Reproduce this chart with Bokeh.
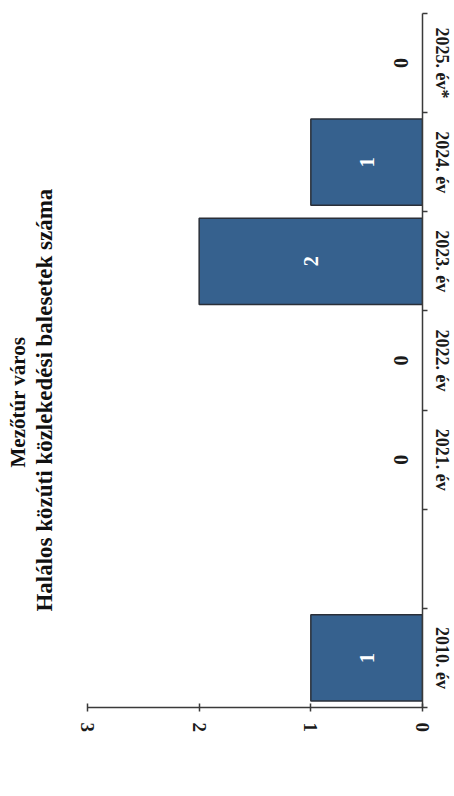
import math
from bokeh.plotting import figure
from bokeh.models import (ColumnDataSource, Range1d, FixedTicker,
                          LinearAxis, Title)
from bokeh.core.properties import value
from bokeh.embed import file_html
from bokeh.resources import INLINE

# ---- data ----
years = ["2010. év", "2021. év", "2022. év", "2023. év", "2024. év", "2025. év*"]
accidents = [1, 0, 0, 2, 1, 0]
empty_slots_after_first = 1   # blank slot between 2010 and 2021 on the category axis
value_ticks = [0, 1, 2, 3]
title_text = "Halálos közúti közlekedési balesetek száma"
subtitle_text = "Mezőtúr város"

n_slots = len(years) + empty_slots_after_first
slot_index = [0] + [i + 1 + empty_slots_after_first for i in range(len(years) - 1)]
year_pos = [i + 0.5 for i in slot_index]

FONT = value("Liberation Serif")
BAR = "#36618e"
AXIS = "#3a3a3a"
TITLE_POS = 3.1   # where the rotated title is centred along the category direction

p = figure(width=454, height=796,
           y_range=Range1d(start=0, end=n_slots),
           x_range=Range1d(start=max(value_ticks), end=min(value_ticks)),
           y_axis_location=None,
           output_backend="svg", toolbar_location=None,
           min_border_left=87, min_border_top=13,
           min_border_bottom=89, min_border_right=10)
p.outline_line_color = None
p.grid.visible = False
p.background_fill_color = "white"

# value axis (bottom)
xa = p.xaxis[0]
xa.ticker = FixedTicker(ticks=value_ticks)
xa.major_label_orientation = "vertical"
xa.major_label_text_font = "Liberation Serif"
xa.major_label_text_font_style = "bold"
xa.major_label_text_font_size = "19px"
xa.major_label_text_color = "#1a1a1a"
xa.major_label_standoff = 11
xa.axis_line_color = AXIS
xa.axis_line_width = 1.5
xa.major_tick_line_color = AXIS
xa.major_tick_line_width = 1.5
xa.major_tick_in = 4
xa.major_tick_out = 4
xa.minor_tick_line_color = None

# category axis (right): labels at slot centres, ticks at slot boundaries
cax = LinearAxis(ticker=FixedTicker(ticks=year_pos,
                                    minor_ticks=list(range(n_slots + 1))),
                 major_label_overrides={pos: y for pos, y in zip(year_pos, years)})
cax.axis_line_color = AXIS
cax.axis_line_width = 1.5
cax.major_tick_line_color = None
cax.major_tick_out = 0
cax.major_tick_in = 0
cax.minor_tick_line_color = AXIS
cax.minor_tick_line_width = 1.5
cax.minor_tick_out = 5
cax.minor_tick_in = 0
cax.major_label_orientation = "vertical"
cax.major_label_standoff = 4
cax.major_label_text_font = "Liberation Serif"
cax.major_label_text_font_style = "bold"
cax.major_label_text_font_size = "18px"
cax.major_label_text_color = "#1a1a1a"
p.add_layout(cax, "right")

# main title: carried by an otherwise invisible left axis so it can sit
# away from the frame (reads bottom-to-top)
tax = LinearAxis(ticker=FixedTicker(ticks=[TITLE_POS]),
                 major_label_overrides={TITLE_POS: title_text})
tax.axis_line_color = None
tax.major_tick_line_color = None
tax.minor_tick_line_color = None
tax.major_tick_out = 0
tax.major_tick_in = 0
tax.minor_tick_out = 0
tax.major_label_orientation = "vertical"
tax.major_label_standoff = 30
tax.major_label_text_font = "Liberation Serif"
tax.major_label_text_font_style = "bold"
tax.major_label_text_font_size = "23px"
tax.major_label_text_color = "#111111"
p.add_layout(tax, "left")

# bars
bar_src = ColumnDataSource(dict(
    y=[pos for pos, v in zip(year_pos, accidents) if v > 0],
    val=[v for v in accidents if v > 0],
))
p.hbar(y="y", left=0, right="val", height=0.87, source=bar_src,
       fill_color=BAR, line_color="#2a2f38", line_width=1.5)

# value labels
lab_src = ColumnDataSource(dict(
    y=year_pos,
    x=[v / 2 for v in accidents],
    txt=[str(v) for v in accidents],
    col=["white" if v > 0 else "#1a1a1a" for v in accidents],
    xo=[0 if v > 0 else -22 for v in accidents],
))
p.text(x="x", y="y", text="txt", source=lab_src, angle=math.pi / 2,
       x_offset="xo", text_color="col", text_align="center",
       text_baseline="middle", text_font=FONT, text_font_style="bold",
       text_font_size="20px")

# subtitle (outermost on the left, reads bottom-to-top)
p.add_layout(Title(text=subtitle_text, align="left", offset=240, standoff=0,
                   text_font="Liberation Serif", text_font_style="bold",
                   text_font_size="21px", text_color="#111111"), "left")

open("out.html", "w").write(file_html(p, INLINE))
